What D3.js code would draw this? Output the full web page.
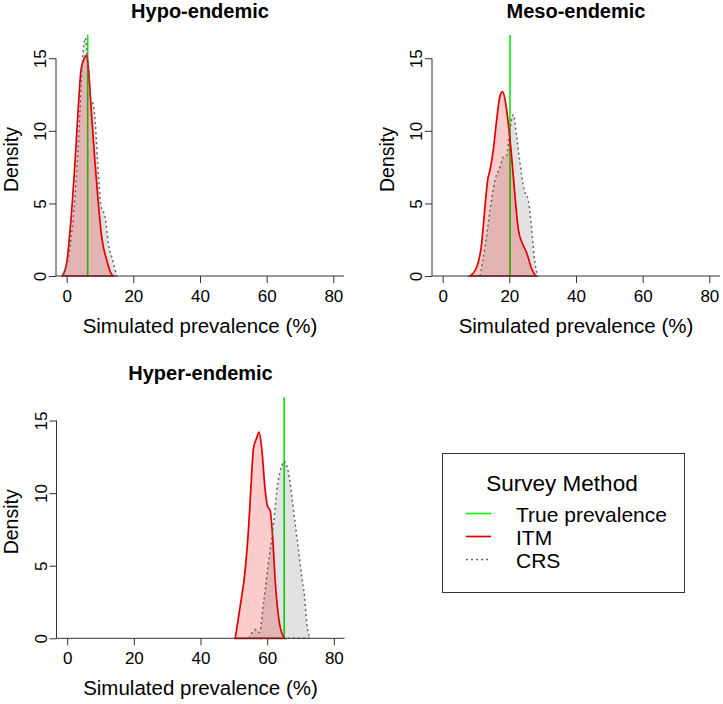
<!DOCTYPE html>
<html>
<head>
<meta charset="utf-8">
<script src="https://cdn.jsdelivr.net/npm/d3@7"></script>
<style>
  body { margin: 0; background: #fff; }
  text { font-family: "Liberation Sans", Arial, sans-serif; fill: #000; }
</style>
</head>
<body>
<svg id="chart" width="723" height="704"></svg>
<script>
// density curves: [prevalence %, density]
var hypoITM = [[-1.3,0],[0,0.9],[1.3,3.9],[2.5,7.8],[3.7,12.4],[4.3,14.2],[5.3,15.0],[6.0,15.2],[6.5,14.4],[7.5,11.0],[8.5,7.8],[9.5,5.0],[10.5,2.7],[12,1.1],[13.5,0.1],[14,0]];
var hypoCRS = [[-1,0],[1.0,2.0],[2.5,5.5],[3.7,10],[4.7,14.7],[5.6,16.4],[6.4,14.5],[7.2,12.2],[8.0,11.8],[8.6,10.5],[9.3,7.8],[10.3,4.8],[11.5,4.1],[12.5,2.3],[14,0.9],[15,0]];
var mesoITM = [[8.2,0],[10.2,0.6],[11.7,2.25],[12.7,4.8],[13.5,6.6],[14.2,7.3],[15.2,8.7],[16.2,10.75],[17.2,12.4],[18.0,12.7],[18.9,11.9],[19.7,10.5],[20.7,8.2],[21.7,5.5],[22.7,3.2],[23.9,2.25],[25.2,1.6],[26.7,0.5],[27.9,0]];
var mesoCRS = [[11.2,0],[12.7,2.0],[14.2,4.5],[15.7,6.6],[17.2,7.5],[18.2,8.2],[19.2,8.3],[20.0,9.8],[21.2,11.1],[22.2,9.6],[23.2,7.8],[24.5,5.9],[25.7,5.2],[26.7,3.2],[27.7,0.9],[28.5,0]];
var hyperITM = [[50.4,0],[51.9,2.2],[53.4,4.7],[54.4,7.5],[55.2,10.7],[55.9,13.1],[56.7,13.7],[57.6,14.2],[58.4,13.0],[59.4,10.2],[60.1,9.1],[60.9,8.8],[61.7,6.8],[62.4,4.0],[63.4,1.5],[64.9,0.1],[65.3,0]];
var hyperCRS = [[54.4,0],[55.9,0.5],[56.7,0.6],[57.7,0.4],[58.9,2.4],[60.4,5.2],[61.9,7.9],[63.2,10.7],[64.4,11.9],[65.1,12.2],[66.4,11.4],[67.4,9.8],[68.4,7.9],[69.4,6.1],[70.4,4.2],[71.2,2.9],[71.9,1.0],[72.9,0]];

var titles = ["Hypo-endemic", "Meso-endemic", "Hyper-endemic"];
var truePrev = [6.3, 20.2, 65.1];
var xTicks = [0, 20, 40, 60, 80];
var yTicks = [0, 5, 10, 15];
var legendLabels = ["True prevalence", "ITM", "CRS"];

var svg = d3.select("#chart");

var panels = [
  { left: 56, bottom: 276, itm: hypoITM, crs: hypoCRS },
  { left: 432, bottom: 276, itm: mesoITM, crs: mesoCRS },
  { left: 56.5, bottom: 638.3, itm: hyperITM, crs: hyperCRS }
];

var plotW = 288, plotH = 241;

panels.forEach(function(p, i) {
  var x = d3.scaleLinear().domain([-3.2, 83.2]).range([p.left, p.left + plotW]);
  var y = d3.scaleLinear().domain([0, 16.6]).range([p.bottom, p.bottom - plotH]);
  var g = svg.append("g");

  // true prevalence line (drawn first, fills sit over it)
  g.append("line")
    .attr("x1", x(truePrev[i])).attr("x2", x(truePrev[i]))
    .attr("y1", y(0)).attr("y2", y(16.6))
    .attr("stroke", "#00ee00").attr("stroke-width", 1.6);

  var area = d3.area()
    .x(function(d) { return x(d[0]); })
    .y0(y(0))
    .y1(function(d) { return y(d[1]); })
    .curve(d3.curveMonotoneX);

  g.append("path").attr("d", area(p.crs))
    .attr("fill", "rgba(0,0,0,0.115)").attr("stroke", "none");
  g.append("path").attr("d", area(p.itm))
    .attr("fill", "rgba(230,0,0,0.2)")
    .attr("stroke", "#e00000").attr("stroke-width", 1.7);
  g.append("path").attr("d", area(p.crs))
    .attr("fill", "none").attr("stroke", "#666").attr("stroke-width", 1.5)
    .attr("stroke-dasharray", "2,3");

  // axes
  var xAxis = g.append("g")
    .attr("transform", "translate(0," + y(0) + ")")
    .call(d3.axisBottom(x).tickValues(xTicks).tickSize(7).tickPadding(7).tickFormat(d3.format("d")));
  xAxis.select(".domain").attr("d", "M" + p.left + ",0H" + (p.left + plotW)).attr("stroke", "#333");
  xAxis.selectAll(".tick line").attr("stroke", "#333");
  xAxis.selectAll("text").style("font-size", "17px").attr("dy", "0.71em");

  var yAxis = g.append("g")
    .attr("transform", "translate(" + p.left + ",0)")
    .call(d3.axisLeft(y).tickValues(yTicks).tickSize(7).tickFormat(d3.format("d")));
  yAxis.select(".domain").attr("d", "M0," + y(0) + "V" + y(15)).attr("stroke", "#333");
  yAxis.selectAll(".tick line").attr("stroke", "#333");
  yAxis.selectAll("text")
    .style("font-size", "17px")
    .attr("x", null).attr("dy", null)
    .attr("text-anchor", "middle")
    .attr("transform", "translate(-10,0) rotate(-90)");

  var cx = p.left + plotW / 2;
  g.append("text")
    .attr("x", cx).attr("y", p.bottom - 258)
    .attr("text-anchor", "middle")
    .style("font-size", "20px").style("font-weight", "bold")
    .text(titles[i]);
  g.append("text")
    .attr("x", cx).attr("y", p.bottom + 57)
    .attr("text-anchor", "middle")
    .style("font-size", "20.5px")
    .text("Simulated prevalence (%)");
  g.append("text")
    .attr("transform", "translate(" + (p.left - 38.5) + "," + (p.bottom - plotH / 2 + 4) + ") rotate(-90)")
    .attr("text-anchor", "middle")
    .style("font-size", "19.5px")
    .text("Density");
});

// legend
var lg = svg.append("g");
lg.append("rect")
  .attr("x", 442.5).attr("y", 453.5).attr("width", 242).attr("height", 139)
  .attr("fill", "none").attr("stroke", "#333");
lg.append("text")
  .attr("x", 562).attr("y", 491)
  .attr("text-anchor", "middle")
  .style("font-size", "22.5px")
  .text("Survey Method");

var legendStyles = [
  { stroke: "#00ee00", dash: null, w: 1.6 },
  { stroke: "#e00000", dash: null, w: 1.7 },
  { stroke: "#666", dash: "2,3", w: 1.5 }
];
var legendY = d3.scalePoint().domain(legendLabels).range([513.5, 559.5]);

legendLabels.forEach(function(lab, i) {
  lg.append("line")
    .attr("x1", 466).attr("x2", 491)
    .attr("y1", legendY(lab)).attr("y2", legendY(lab))
    .attr("stroke", legendStyles[i].stroke)
    .attr("stroke-width", legendStyles[i].w)
    .attr("stroke-dasharray", legendStyles[i].dash);
  lg.append("text")
    .attr("x", 516).attr("y", legendY(lab) + 8)
    .style("font-size", "21px")
    .text(lab);
});
</script>
</body>
</html>
